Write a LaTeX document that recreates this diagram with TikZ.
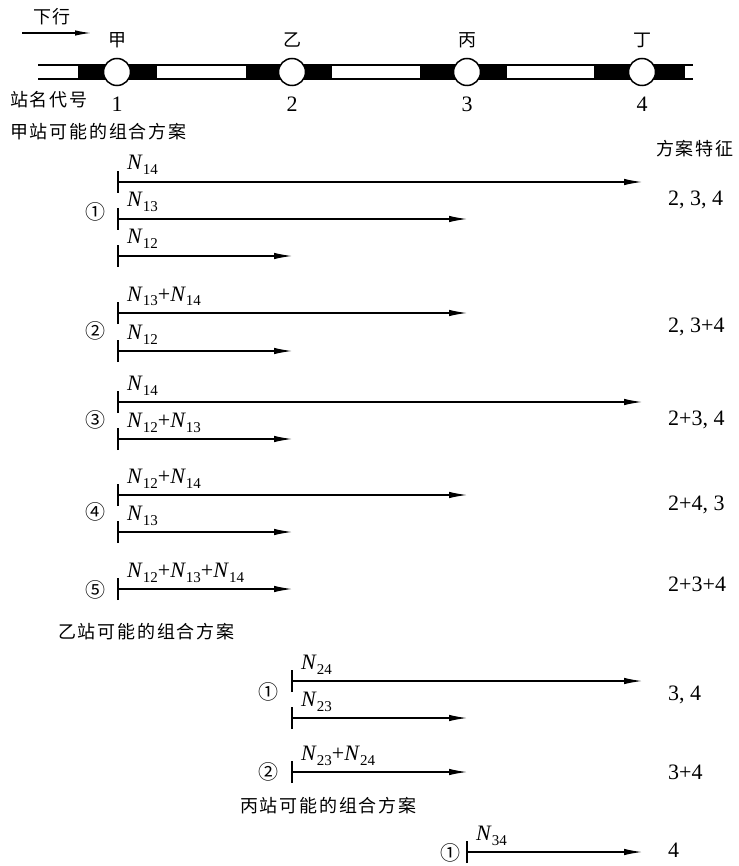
\documentclass[tikz,border=0pt]{standalone}
\usepackage{fontspec}
\setmainfont{Liberation Serif}
\newfontfamily\cjk[LetterSpace=10]{Noto Sans CJK SC}
\newfontfamily\circfont{Noto Sans CJK SC}
\usetikzlibrary{arrows.meta}

% italic N with a lowered index
\newcommand{\Nn}[1]{\textit{N}\raisebox{-5pt}{\fontsize{15}{15}\selectfont #1}}

% one flow: start tick, arrow to the destination station, label above
\newcommand{\flowrow}[5]{%
  \coordinate (#1s) at (#2,#3);
  \coordinate (#1e) at (#4,#3);
  \draw[flow] (#1s) -- (#1e);
  \draw[tick] ([yshift=-11pt]#1s) -- ([yshift=11pt]#1s);
  \node[lbl] (#1l) at ([xshift=9pt,yshift=12pt]#1s) {#5};
}

\tikzset{
  flow/.style={line width=1.2pt, -{Latex[length=18pt,width=6.5pt]}},
  tick/.style={line width=1.2pt},
  lbl/.style={anchor=base west, inner sep=0pt, font=\fontsize{22}{22}\selectfont},
  zh/.style={inner sep=0pt, font=\fontsize{18}{18}\selectfont\cjk},
  num/.style={inner sep=0pt, font=\fontsize{22}{22}\selectfont},
  feat/.style={anchor=west, inner sep=0pt, font=\fontsize{22}{22}\selectfont},
  cnum/.style={inner sep=0pt, font=\fontsize{20}{20}\selectfont\circfont},
  station/.style={circle, draw, fill=white, line width=1.5pt, minimum size=27pt, inner sep=0pt},
  rail/.style={line width=1.5pt},
}

\begin{document}
\begin{tikzpicture}[x=1pt,y=-1pt]
\useasboundingbox (0,0) rectangle (738,866);

% direction of travel
\node[zh] (dir) at (52,17) {下行};
\coordinate (dirA) at (22,33);
\coordinate (dirB) at (91,33);
\draw[line width=1.2pt, -{Latex[length=16pt,width=5.5pt]}] (dirA) -- (dirB);

% the line: two rails with dark sections round each station
\fill (78,65) rectangle (157,79);
\fill (246,65) rectangle (332,79);
\fill (420,65) rectangle (507,79);
\fill (594,65) rectangle (685,79);
\coordinate (railL1) at (38,65);
\coordinate (railR1) at (693,65);
\coordinate (railL2) at (38,79);
\coordinate (railR2) at (693,79);
\draw[rail] (railL1) -- (railR1);
\draw[rail] (railL2) -- (railR2);

\node[station] (s1) at (117,72) {};
\node[station] (s2) at (292,72) {};
\node[station] (s3) at (467,72) {};
\node[station] (s4) at (642,72) {};

\node[zh] (n1) at (117,40) {甲};
\node[zh] (n2) at (292,40) {乙};
\node[zh] (n3) at (467,40) {丙};
\node[zh] (n4) at (642,40) {丁};

\node[zh, anchor=west] (code) at (10,100) {站名代号};
\node[num] (c1) at (117,104) {1};
\node[num] (c2) at (292,104) {2};
\node[num] (c3) at (467,104) {3};
\node[num] (c4) at (642,104) {4};

% combinations from station 1
\node[zh, anchor=west] (hA) at (10,132) {甲站可能的组合方案};
\node[zh, anchor=west] (hF) at (656,149) {方案特征};

\node[cnum] (a1n) at (95,212) {①};
\flowrow{a1x}{118}{182}{642}{\Nn{14}}
\flowrow{a1y}{118}{219}{467}{\Nn{13}}
\flowrow{a1z}{118}{256}{292}{\Nn{12}}
\node[feat] (a1f) at (668,200) {2, 3, 4};

\node[cnum] (a2n) at (95,331) {②};
\flowrow{a2x}{118}{313}{467}{\Nn{13}+\Nn{14}}
\flowrow{a2y}{118}{351}{292}{\Nn{12}}
\node[feat] (a2f) at (668,327) {2, 3+4};

\node[cnum] (a3n) at (95,420) {③};
\flowrow{a3x}{118}{402}{642}{\Nn{14}}
\flowrow{a3y}{118}{439}{292}{\Nn{12}+\Nn{13}}
\node[feat] (a3f) at (668,420) {2+3, 4};

\node[cnum] (a4n) at (95,512) {④};
\flowrow{a4x}{118}{495}{467}{\Nn{12}+\Nn{14}}
\flowrow{a4y}{118}{532}{292}{\Nn{13}}
\node[feat] (a4f) at (668,505) {2+4, 3};

\node[cnum] (a5n) at (95,590) {⑤};
\flowrow{a5x}{118}{589}{292}{\Nn{12}+\Nn{13}+\Nn{14}}
\node[feat] (a5f) at (668,584) {2+3+4};

% combinations from station 2
\node[zh, anchor=west] (hB) at (58,632) {乙站可能的组合方案};

\node[cnum] (b1n) at (268,692) {①};
\flowrow{b1x}{292}{681}{642}{\Nn{24}}
\flowrow{b1y}{292}{718}{467}{\Nn{23}}
\node[feat] (b1f) at (668,695) {3, 4};

\node[cnum] (b2n) at (268,772) {②};
\flowrow{b2x}{292}{772}{467}{\Nn{23}+\Nn{24}}
\node[feat] (b2f) at (668,772) {3+4};

% combinations from station 3
\node[zh, anchor=west] (hC) at (240,806) {丙站可能的组合方案};

\node[cnum] (c1n) at (450,853) {①};
\flowrow{c1x}{467}{852}{642}{\Nn{34}}
\node[feat] (c1f) at (668,850) {4};
\end{tikzpicture}
\end{document}
